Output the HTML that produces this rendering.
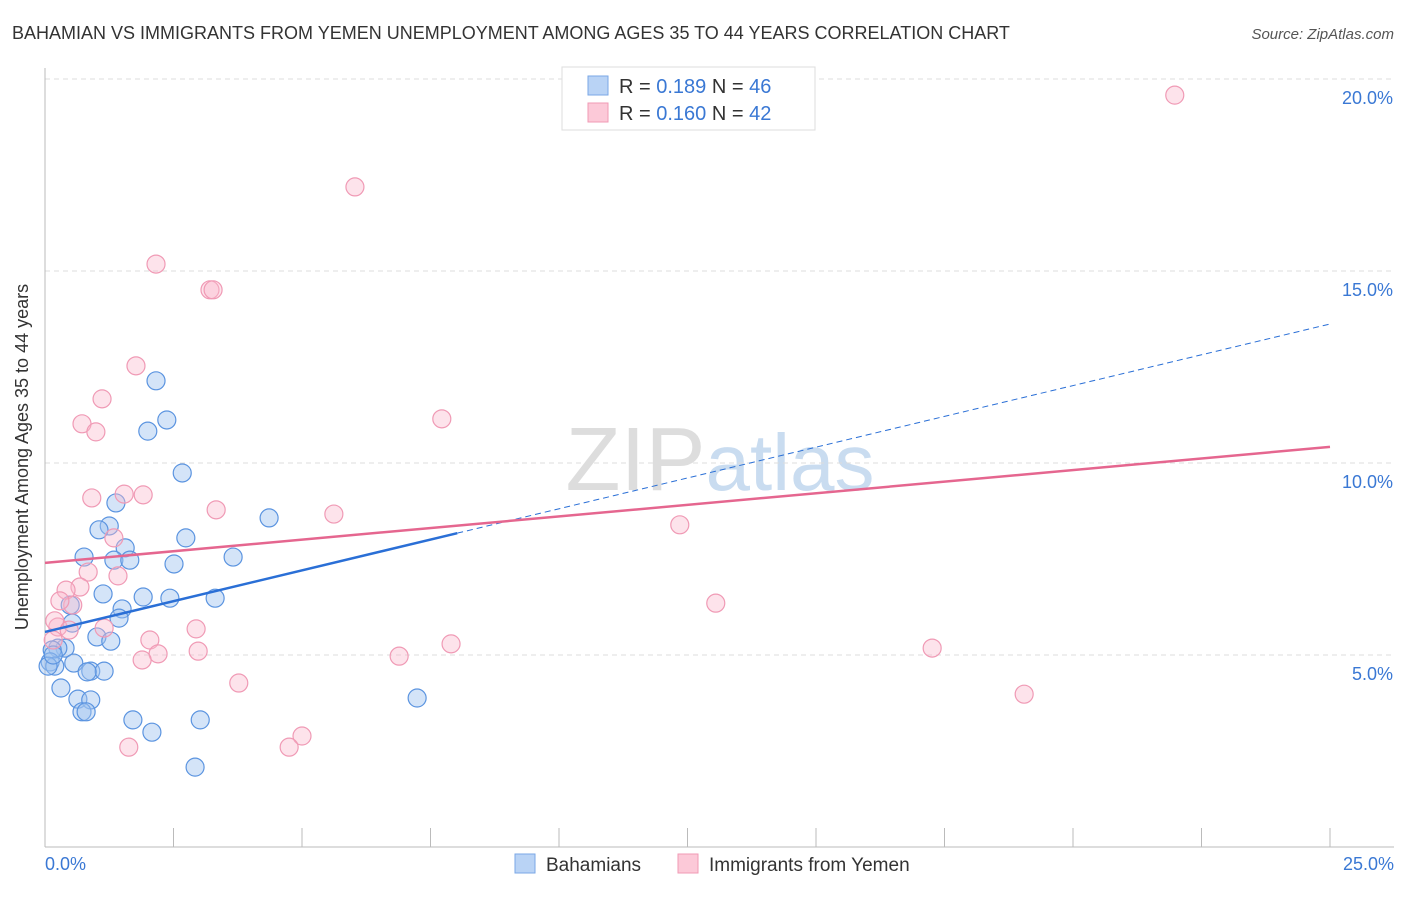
<!DOCTYPE html>
<html><head><meta charset="utf-8"><style>
body{margin:0;background:#fff;font-family:"Liberation Sans",sans-serif;}
svg text{font-family:"Liberation Sans",sans-serif;}
</style></head><body>
<svg id="chart" width="1406" height="892" xmlns="http://www.w3.org/2000/svg">
<text x="12" y="39" font-size="18" fill="#333">BAHAMIAN VS IMMIGRANTS FROM YEMEN UNEMPLOYMENT AMONG AGES 35 TO 44 YEARS CORRELATION CHART</text>
<text x="1394" y="39" font-size="15" fill="#555" font-style="italic" text-anchor="end">Source: ZipAtlas.com</text>
<text x="720" y="490" font-size="90" fill="#ddd" text-anchor="middle" font-family="Liberation Serif">ZIP<tspan fill="#c9dcf0" font-family="Liberation Sans" font-size="80">atlas</tspan></text>
<g id="grid"></g>
<line x1="45" y1="68" x2="45" y2="847" stroke="#bbb"/>
<line x1="45" y1="847" x2="1394" y2="847" stroke="#bbb"/>
<text x="28" y="457" font-size="18" fill="#333" text-anchor="middle" transform="rotate(-90 28 457)">Unemployment Among Ages 35 to 44 years</text>
<text x="45" y="870" font-size="18" fill="#3a78d4">0.0%</text>
<text x="1394" y="870" font-size="18" fill="#3a78d4" text-anchor="end">25.0%</text>
<g id="points"></g>
<g id="trends"></g>
<g>
<rect x="562" y="67" width="253" height="63" fill="#fff" stroke="#ddd"/>
<rect x="588" y="76" width="20" height="19" fill="#b9d3f5" stroke="#7aa7e6"/>
<rect x="588" y="103" width="20" height="19" fill="#fcc9d8" stroke="#f09ab5"/>
<text x="619" y="93" font-size="20" fill="#333">R = <tspan fill="#3a78d4">0.189</tspan>   N = <tspan fill="#3a78d4">46</tspan></text>
<text x="619" y="120" font-size="20" fill="#333">R = <tspan fill="#3a78d4">0.160</tspan>   N = <tspan fill="#3a78d4">42</tspan></text>
</g>
<g>
<rect x="515" y="854" width="20" height="19" fill="#b9d3f5" stroke="#7aa7e6"/>
<text x="546" y="871" font-size="19" fill="#333">Bahamians</text>
<rect x="678" y="854" width="20" height="19" fill="#fcc9d8" stroke="#f09ab5"/>
<text x="709" y="871" font-size="19" fill="#333">Immigrants from Yemen</text>
</g>
</svg>
<script>
const blueX=[2.16,2.37,2.00,2.67,4.36,1.38,1.25,1.05,2.74,1.56,0.76,1.34,1.65,3.66,2.51,1.13,1.91,2.43,3.31,1.50,0.49,1.44,0.53,1.01,1.28,0.39,0.25,0.14,0.56,0.10,0.19,0.06,0.89,1.15,0.82,0.31,0.64,0.89,0.72,0.80,1.71,2.08,7.24,3.02,2.92,0.16];
const blueY=[12.14,11.12,10.83,9.74,8.57,8.96,8.36,8.26,8.05,7.79,7.55,7.47,7.47,7.55,7.37,6.59,6.51,6.48,6.48,6.20,6.30,5.96,5.83,5.47,5.36,5.18,5.18,5.13,4.79,4.82,4.71,4.71,4.58,4.58,4.56,4.14,3.85,3.83,3.52,3.52,3.31,2.99,3.88,3.31,2.08,5.00];
const pinkX=[21.98,6.03,2.16,3.21,3.27,1.77,1.11,0.72,0.99,7.72,0.91,1.54,1.91,3.33,5.62,12.35,1.34,0.84,1.42,0.68,0.41,0.54,0.29,13.05,1.15,2.94,0.25,0.19,0.47,2.04,2.20,2.98,1.89,7.90,6.89,17.26,3.77,19.05,5.00,4.75,1.63,0.16];
const pinkY=[19.58,17.19,15.18,14.51,14.51,12.53,11.67,11.02,10.81,11.15,9.09,9.19,9.17,8.78,8.67,8.39,8.05,7.16,7.06,6.77,6.69,6.30,6.41,6.35,5.70,5.68,5.73,5.89,5.65,5.39,5.03,5.10,4.87,5.29,4.97,5.18,4.27,3.98,2.89,2.60,2.60,5.39];
const yTicks=[5,10,15,20];
const xTicks=[0,2.5,5,7.5,10,12.5,15,17.5,20,22.5,25];
const blueTrend=[5.60,13.62], blueSolidEnd=8.02;
const pinkTrend=[7.40,10.42];
const NS='http://www.w3.org/2000/svg';
const sx=v=>45+v*51.4, sy=v=>847-v*38.4;
function mk(tag,attrs,parent){const e=document.createElementNS(NS,tag);for(const k in attrs)e.setAttribute(k,attrs[k]);parent.appendChild(e);return e;}
const grid=document.getElementById('grid');
yTicks.forEach(t=>{
 const l=mk('line',{x1:45,x2:1394,y1:sy(t),y2:sy(t),stroke:'#ddd','stroke-dasharray':'5,4'},grid);
 
 
 const tx=mk('text',{x:1393,y:sy(t)+25,'font-size':18,fill:'#3a78d4','text-anchor':'end'},grid);
 tx.textContent=t.toFixed(1)+'%';
 
 
});
xTicks.forEach(t=>{
 const l=mk('line',{x1:sx(t),x2:sx(t),y1:828,y2:847,stroke:'#bbb'},grid);
 
 
});
const pts=document.getElementById('points');
blueX.forEach((x,i)=>{
 const c=mk('circle',{cx:sx(x),cy:sy(blueY[i]),r:9,fill:'rgba(160,196,240,0.45)',stroke:'#5b94e0','stroke-width':1.2},pts);
 
 
});
pinkX.forEach((x,i)=>{
 const c=mk('circle',{cx:sx(x),cy:sy(pinkY[i]),r:9,fill:'rgba(250,185,205,0.4)',stroke:'#f09ab5','stroke-width':1.2},pts);
 
 
});
const tr=document.getElementById('trends');
const by=x=>blueTrend[0]+(blueTrend[1]-blueTrend[0])*x/25;
let l1=mk('line',{x1:sx(0),y1:sy(by(0)),x2:sx(blueSolidEnd),y2:sy(by(blueSolidEnd)),stroke:'#2a6fd6','stroke-width':2.5},tr);


let l2=mk('line',{x1:sx(blueSolidEnd),y1:sy(by(blueSolidEnd)),x2:sx(25),y2:sy(by(25)),stroke:'#2a6fd6','stroke-width':1,'stroke-dasharray':'6,4'},tr);


let l3=mk('line',{x1:sx(0),y1:sy(pinkTrend[0]),x2:sx(25),y2:sy(pinkTrend[1]),stroke:'#e5668f','stroke-width':2.5},tr);


</script>
</body></html>
